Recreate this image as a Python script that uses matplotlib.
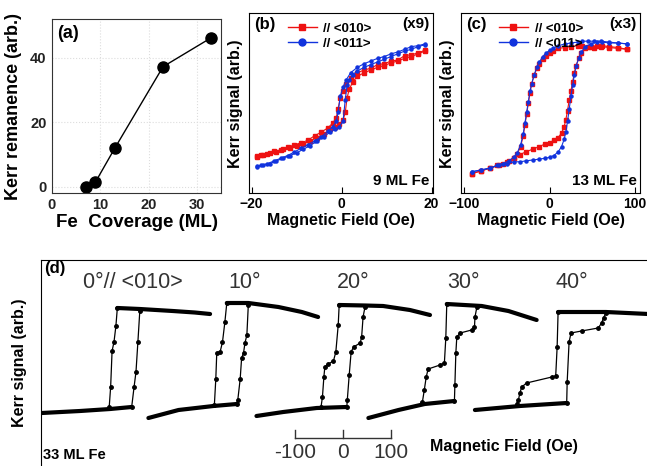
import matplotlib
matplotlib.use('Agg')
import matplotlib.pyplot as plt
from matplotlib.lines import Line2D

W, H = 647, 466
plt.rcParams['font.family'] = ['Liberation Sans', 'DejaVu Sans']

# ---- (a) Kerr remanence vs Fe coverage
coverage = [7, 9, 13, 23, 33]
remanence = [0, 1.4, 11.9, 37.2, 46.2]

# ---- (b) 9 ML Fe, field (Oe) / signal (arb.)
b_dn_field = [18.5, 17, 15.5, 14, 12.5, 11, 9.5, 8, 6.5, 5, 3.5, 2, 1, 0.3, -0.3,
              -0.8, -1.2, -2, -3, -4.5, -6, -7.5, -9, -10.5, -12, -13.5, -15, -16.5, -18, -18.8]
b_up_field = [-18.8, -17.5, -16, -14.5, -13, -11.5, -10, -8.5, -7, -5.5, -4, -2.5, -1.5, -0.5, 0.3,
              0.8, 1.2, 1.7, 2.5, 3.5, 5, 6.5, 8, 9.5, 11, 12.5, 14, 15.5, 17, 18.5]
b_red_dn = [79.5, 78, 77, 76.5, 74, 73.5, 72, 71.5, 69.5, 68.5, 67, 64, 61, 57, 53,
            47, 42, 39, 36.5, 34, 32, 29.5, 28, 27, 25.5, 24, 23.5, 22, 21.5, 20.5]
b_red_up = [20, 21.5, 22.5, 23, 24.5, 25, 26.5, 27.5, 29, 31, 33, 35.5, 37, 38.5, 40.5,
            45, 53, 58, 62, 65, 67, 68.5, 70, 71, 72.5, 73.5, 75, 76, 77.5, 79]
b_blue_dn = [83, 82, 81.5, 80, 78.5, 77.5, 76, 75, 73.5, 72, 70, 67, 63, 59, 54,
             45, 40, 37, 34.5, 31.5, 29, 27, 25, 23, 21, 19.5, 18, 16.5, 15.5, 15]
b_blue_up = [14.5, 15.5, 16.5, 18, 19.5, 21, 22.5, 24.5, 26.5, 29, 31.5, 34, 35.5, 37, 40,
             52, 60, 63, 66, 68, 70, 71.5, 73, 74.5, 76, 77.5, 79, 80, 81.5, 82.5]

# ---- (c) 13 ML Fe
c_dn_field = [91, 80, 70, 60, 52, 45, 38, 33, 25, 18, 10, 4, 0, -4, -8, -12, -15, -18, -21,
              -23, -25, -27, -29, -31, -34, -38, -42, -48, -55, -62, -70, -80, -91]
c_up_field = [-91, -80, -70, -60, -50, -42, -35, -28, -20, -12, -5, 0, 5, 10, 14, 17, 19, 21,
              23, 25, 27, 29, 31, 34, 37, 42, 48, 55, 62, 70, 80, 91]
c_red_dn = [80, 80.5, 81, 81.5, 81, 81.5, 82, 82, 81.5, 81, 80.5, 79, 78, 76.5, 74.5, 72, 69.5,
            66, 61, 56, 50, 44, 38, 32, 26, 22, 19.5, 18, 16.5, 15.5, 14, 12.5, 11]
c_red_up = [11, 12.5, 14, 15.5, 17.5, 19.5, 21.5, 23, 24.5, 26, 27.5, 28, 29.5, 31, 33.5, 37, 41,
            46, 52, 57, 62, 67, 71, 75, 78, 80.5, 81.5, 82, 82, 81.5, 81, 80]
c_blue_dn = [83, 83.5, 84, 84.5, 84.5, 84.5, 84.5, 84, 83.5, 83, 82, 80.5, 79.5, 78, 76, 73, 70,
             66, 61, 57, 51, 45, 39, 33, 27, 22.5, 20, 18, 16.5, 15.5, 14, 13, 12]
c_blue_up = [12, 13, 14, 15.5, 16.5, 17.5, 17.5, 18, 18.5, 19, 19.5, 20, 21, 23, 26, 30, 34, 40,
             47, 54, 60, 66, 70.5, 75, 78.5, 81.5, 83, 84, 84, 83.5, 83.5, 83]

# ---- (d) 33 ML Fe, loops at 0..40 deg, field (Oe) relative to loop centre
angles = ['0°// <010>', '10°', '20°', '30°', '40°']
loop_centers = [175.7, 401.7, 631.8, 860.9, 1085.8]   # Oe along the panel

l0_up_h = [-174, -94, -31, 14, 19, 23, 27, 31]
l0_up_s = [53, 55, 57, 59, 79, 94, 124, 155]
l0_dn_h = [178, 146, 100, 31, -16, -19, -23, -27, -30, -33]
l0_dn_s = [152, 153.5, 155, 157, 158, 140, 124, 115, 79, 59]

l1_up_h = [-177, -114, -41, 8, 10, 15, 18, 22, 25, 29, 32]
l1_up_s = [48, 56, 60, 62, 66, 87, 108, 113, 123, 131, 161]
l1_dn_h = [178, 144, 95, 32, -13, -17, -22, -27, -34, -36, -39]
l1_dn_s = [149, 154, 159, 163, 163, 144, 124, 114, 113, 87, 61]

l2_up_h = [-181, -125, -55, 8, 9, 13, 17, 22, 36, 39, 42, 46]
l2_up_s = [50, 54, 58, 59, 66, 91, 114, 119, 123, 129, 149, 159]
l2_dn_h = [182, 140, 84, 46, -8, -10, -15, -20, -31, -38, -40, -43, -46]
l2_dn_s = [151, 156, 160, 160.5, 161, 141, 114, 105, 102, 99, 89, 69, 59]

l3_up_h = [-176, -113, -58, 4, 5, 7, 9, 16, 40, 46, 47, 51]
l3_up_s = [48, 56, 62, 65, 81, 113, 129, 133, 136, 139, 149, 159]
l3_dn_h = [176, 117, 61, -12, -14, -17, -26, -51, -55, -59, -63]
l3_dn_s = [146, 155, 160, 162, 128, 103, 101, 97, 89, 76, 64]

l4_up_h = [-178, -84, 14, 15, 19, 23, 45, 80, 87, 91, 96]
l4_up_s = [56, 60, 63, 84, 124, 133, 135, 138, 143, 148, 153]
l4_dn_h = [185, 96, -4, -6, -9, -17, -70, -80, -84, -87, -91]
l4_dn_s = [152, 154, 154, 119, 90, 89, 83, 79, 73, 66, 62]

loops = [
    (l0_up_h, l0_up_s, 4, l0_dn_h, l0_dn_s, 5),
    (l1_up_h, l1_up_s, 4, l1_dn_h, l1_dn_s, 5),
    (l2_up_h, l2_up_s, 4, l2_dn_h, l2_dn_s, 5),
    (l3_up_h, l3_up_s, 4, l3_dn_h, l3_dn_s, 4),
    (l4_up_h, l4_up_s, 3, l4_dn_h, l4_dn_s, 3),
]

fig = plt.figure(figsize=(W / 100, H / 100), dpi=100)


def px_axes(l, t, r, b):
    return fig.add_axes([l / W, 1 - b / H, (r - l) / W, (b - t) / H])


def ftext(x, y, s, **kw):
    fig.text(x / W, 1 - y / H, s, **kw)


def bold_ticks(ax):
    for lbl in ax.get_xticklabels() + ax.get_yticklabels():
        lbl.set_fontweight('bold')


# ---------------- (a)
ax = px_axes(52, 19.3, 221, 192.7)
ax.plot(coverage, remanence, color='black', lw=1, marker='o', ms=8)
ax.set_xlim(0, 35)
ax.set_ylim(-1.9, 51.9)
ax.set_xticks([0, 10, 20, 30])
ax.set_yticks([0, 20, 40])
ax.grid(True, color='#dddddd', ls=':', lw=0.8)
ax.tick_params(length=0, labelsize=10.5, pad=4, colors='#222222')
bold_ticks(ax)
for sp in ax.spines.values():
    sp.set_color('#333333')
ax.text(0.03, 0.97, '(a)', transform=ax.transAxes, ha='left', va='top',
        fontsize=13, fontweight='bold')
ax.set_xlabel('Fe  Coverage (ML)', fontsize=13.5, fontweight='bold', labelpad=1)
ax.set_ylabel('Kerr remanence (arb.)', fontsize=13, fontweight='bold', labelpad=6)


# ---------------- (b), (c)
def loop_panel(box, dn_f, up_f, red_dn, red_up, blue_dn, blue_up, xlim, xticks, tag, mult, thick):
    ax = px_axes(*box)
    ax.plot(dn_f, red_dn, color='#ee1111', marker='s', ms=2.2, lw=0.8)
    ax.plot(up_f, red_up, color='#ee1111', marker='s', ms=2.2, lw=0.8)
    ax.plot(dn_f, blue_dn, color='#1133dd', marker='o', ms=2.2, lw=0.8)
    ax.plot(up_f, blue_up, color='#1133dd', marker='o', ms=2.2, lw=0.8)
    ax.set_xlim(*xlim)
    ax.set_ylim(0, 100)
    ax.set_xticks(xticks)
    ax.set_yticks([])
    ax.tick_params(axis='x', direction='in', length=4, labelsize=10, pad=3)
    bold_ticks(ax)
    ax.set_xlabel('Magnetic Field (Oe)', fontsize=11.5, fontweight='bold', labelpad=1)
    ax.set_ylabel('Kerr signal (arb.)', fontsize=11.5, fontweight='bold', labelpad=4)
    ax.text(0.03, 0.98, tag, transform=ax.transAxes, ha='left', va='top',
            fontsize=12, fontweight='bold')
    ax.text(0.98, 0.98, mult, transform=ax.transAxes, ha='right', va='top',
            fontsize=11, fontweight='bold')
    ax.text(0.98, 0.03, thick, transform=ax.transAxes, ha='right', va='bottom',
            fontsize=11, fontweight='bold')
    handles = [Line2D([], [], color='#ee1111', marker='s', ms=5, lw=1),
               Line2D([], [], color='#1133dd', marker='o', ms=5, lw=1)]
    ax.legend(handles, ['// <010>', '// <011>'], loc='upper left',
              bbox_to_anchor=(0.16, 1.0), frameon=False, borderpad=0.2,
              handlelength=2.2, handletextpad=0.5, labelspacing=0.2,
              prop={'weight': 'bold', 'size': 9.5})
    return ax


loop_panel((249, 13.3, 433, 193.3), b_dn_field, b_up_field, b_red_dn, b_red_up,
           b_blue_dn, b_blue_up, (-20.6, 20.3), [-20, 0, 20], '(b)', '(x9)', '9 ML Fe')
loop_panel((461, 13.3, 640, 193.3), c_dn_field, c_up_field, c_red_dn, c_red_up,
           c_blue_dn, c_blue_up, (-104, 106), [-100, 0, 100], '(c)', '(x3)', '13 ML Fe')

# ---------------- (d)
ax = px_axes(41, 260, 647, 466)
ax.set_xlim(0, 1267.8)
ax.set_ylim(0, 206)
for side in ['right', 'bottom']:
    ax.spines[side].set_visible(False)
ax.set_xticks([])
ax.set_yticks([])
for c0, (uh, us, nu, dh, ds, nd) in zip(loop_centers, loops):
    uh = [c0 + h for h in uh]
    dh = [c0 + h for h in dh]
    ax.plot(uh[:nu], us[:nu], color='black', lw=3, solid_capstyle='round')
    ax.plot(dh[:nd], ds[:nd], color='black', lw=3, solid_capstyle='round')
    ax.plot(uh[nu - 1:], us[nu - 1:], color='black', lw=0.9, marker='o', ms=2.5)
    ax.plot(dh[nd - 1:], ds[nd - 1:], color='black', lw=0.9, marker='o', ms=2.5)

# field scale bar (-100 .. 100 Oe) under the 20 deg loop
sb = loop_centers[2]
ax.plot([sb - 100, sb + 100], [27.7, 27.7], color='#333333', lw=1)
for t in [-100, 0, 100]:
    ax.plot([sb + t, sb + t], [27.7, 36], color='#333333', lw=1)
    ax.text(sb + t, 13, str(t), ha='center', va='center', fontsize=15, color='#333333')

ax.text(0.005, 0.995, '(d)', transform=ax.transAxes, ha='left', va='top',
        fontsize=12, fontweight='bold')
ax.set_ylabel('Kerr signal (arb.)', fontsize=11.5, fontweight='bold', labelpad=10)

ftext(43, 455, '33 ML Fe', fontsize=10.5, fontweight='bold', va='center')
ftext(430, 446, 'Magnetic Field (Oe)', fontsize=11.5, fontweight='bold', va='center')
for x0, lab in zip([83, 228, 337, 447, 555], angles):
    ftext(x0, 283, lab, fontsize=15.5, color='#333333', va='center')

fig.savefig('out.png', dpi=100)
